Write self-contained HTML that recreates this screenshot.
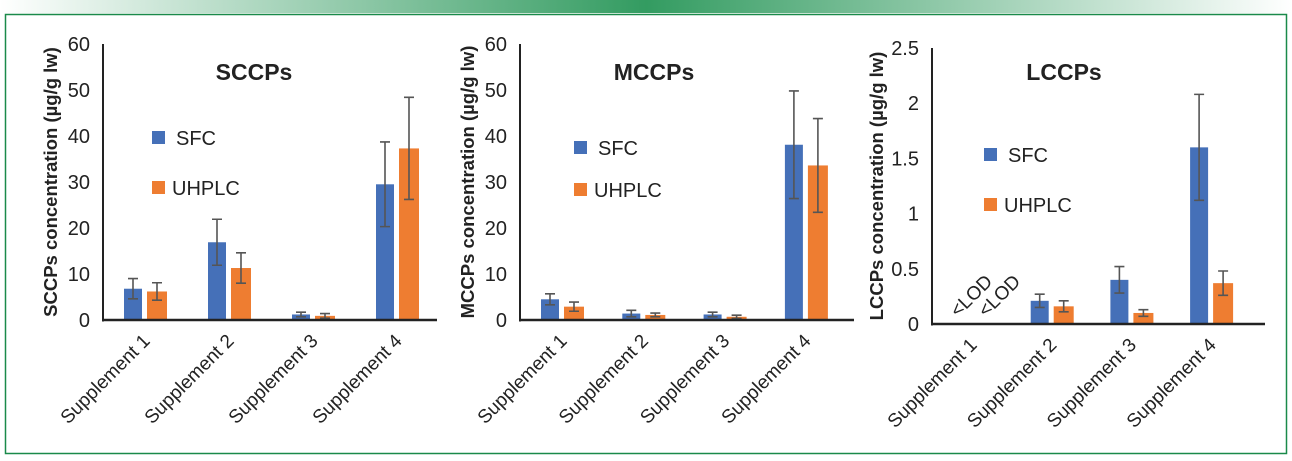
<!DOCTYPE html>
<html><head><meta charset="utf-8"><style>
body{margin:0;width:1292px;height:456px;overflow:hidden;background:#fff;font-family:"Liberation Sans",Arial,sans-serif}
</style></head><body>
<svg id="chart" width="1292" height="456" xmlns="http://www.w3.org/2000/svg" font-family="Liberation Sans, Arial, sans-serif">
<defs><linearGradient id="topg" x1="0" x2="1" y1="0" y2="0">
<stop offset="0" stop-color="#fff"/><stop offset="0.5" stop-color="#0f8a45"/><stop offset="1" stop-color="#fff"/></linearGradient></defs>
<rect x="0" y="0" width="1292" height="13" fill="url(#topg)" opacity="0.85"/>
<rect x="5.5" y="14.5" width="1281" height="439" fill="none" stroke="#1a8a4a" stroke-width="1.5"/>
<g id="plots"></g>
</svg>
<script>
const categories = ["Supplement 1","Supplement 2","Supplement 3","Supplement 4"];
const sccpSFC = [6.8,16.9,1.2,29.5];
const sccpSFCErr = [2.2,5.0,0.5,9.2];
const sccpUHPLC = [6.2,11.3,0.9,37.3];
const sccpUHPLCErr = [1.9,3.3,0.5,11.1];
const mccpSFC = [4.5,1.4,1.2,38.1];
const mccpSFCErr = [1.2,0.7,0.5,11.7];
const mccpUHPLC = [2.9,1.1,0.7,33.6];
const mccpUHPLCErr = [1.0,0.4,0.35,10.2];
const lccpSFC = [null,0.21,0.40,1.60];
const lccpSFCErr = [0,0.06,0.12,0.48];
const lccpUHPLC = [null,0.16,0.10,0.37];
const lccpUHPLCErr = [0,0.05,0.03,0.11];
const sccpTicks = [0,10,20,30,40,50,60];
const mccpTicks = [0,10,20,30,40,50,60];
const lccpTicks = [0,0.5,1,1.5,2,2.5];

const NS="http://www.w3.org/2000/svg";
const root=document.getElementById('plots');
function mk(tag,attrs,parent){const e=document.createElementNS(NS,tag);for(const k in attrs)e.setAttribute(k,attrs[k]);(parent||root).appendChild(e);return e;}

const panels=[
 {key:'sccp',title:'SCCPs',ytitle:'SCCPs concentration (µg/g lw)',sfc:sccpSFC,sfcE:sccpSFCErr,uh:sccpUHPLC,uhE:sccpUHPLCErr,ticks:sccpTicks,
  ax:103,x0:124,pitch:84,y0:320,yTop:44,xEnd:437,titleX:254,legX:152,legY1:131,legY2:181,ytX:57},
 {key:'mccp',title:'MCCPs',ytitle:'MCCPs concentration (µg/g lw)',sfc:mccpSFC,sfcE:mccpSFCErr,uh:mccpUHPLC,uhE:mccpUHPLCErr,ticks:mccpTicks,
  ax:520,x0:541,pitch:81.3,y0:320,yTop:44,xEnd:854,titleX:654,legX:574,legY1:141,legY2:183,ytX:474},
 {key:'lccp',title:'LCCPs',ytitle:'LCCPs concentration (µg/g lw)',sfc:lccpSFC,sfcE:lccpSFCErr,uh:lccpUHPLC,uhE:lccpUHPLCErr,ticks:lccpTicks,
  ax:932,x0:951,pitch:79.7,y0:324,yTop:48,xEnd:1265,titleX:1064,legX:984,legY1:148,legY2:198,ytX:883,lod:true}
];

panels.forEach(p=>{
  const g=mk('g',{});
  
  
  const maxT=p.ticks[p.ticks.length-1];
  const y=v=>p.y0-(v/maxT)*(p.y0-p.yTop);
  const xc=i=>p.x0+i*p.pitch;
  p.ticks.forEach(t=>{
    const tx=mk('text',{x:p.ax-13,y:y(t)+7,'text-anchor':'end','font-size':20,fill:'#222'},g);
    tx.textContent=String(t);
    
    
  });
  const ya=mk('line',{x1:p.ax,y1:p.yTop,x2:p.ax,y2:p.y0+1.5,stroke:'#222','stroke-width':2},g);
  
  
  const ytl=mk('text',{x:0,y:0,transform:`translate(${p.ytX},${(p.y0+p.yTop)/2}) rotate(-90)`,'text-anchor':'middle','font-size':18.5,'font-weight':'bold',fill:'#222'},g);
  ytl.textContent=p.ytitle;
  
  
  const tt=mk('text',{x:p.titleX,y:80,'text-anchor':'middle','font-size':23,'font-weight':'bold',fill:'#222'},g);
  tt.textContent=p.title;
  
  
  categories.forEach((c,i)=>{
    const series=[[p.sfc,p.sfcE,'#4570b8',0,18,'sfc'],[p.uh,p.uhE,'#ee7d31',23,20,'uhplc']];
    series.forEach(([vals,errs,col,off,w,nm])=>{
      const v=vals[i];
      if(v===null)return;
      const bx=xc(i)+off;
      const r=mk('rect',{x:bx,y:y(v),width:w,height:p.y0-y(v),fill:col},g);
      
      
      const cx=bx+w/2, hi=y(v+errs[i]), lo=y(Math.max(0,v-errs[i]));
      const eb=mk('path',{d:`M${cx},${hi}V${lo}M${cx-5},${hi}H${cx+5}M${cx-5},${lo}H${cx+5}`,stroke:'#555','stroke-width':1.6,fill:'none'},g);
      
      
    });
    const lx=xc(i)+27, ly=p.y0+22;
    const lb=mk('text',{x:0,y:0,transform:`translate(${lx},${ly}) rotate(-45)`,'text-anchor':'end','font-size':19,fill:'#222'},g);
    lb.textContent=c;
    
    
  });
  const xa=mk('line',{x1:p.ax-1,y1:p.y0,x2:p.xEnd,y2:p.y0,stroke:'#222','stroke-width':2.5},g);
  
  
  if(p.lod){
    [[p.x0+7,p.y0-6],[p.x0+35,p.y0-6]].forEach(([lx,ly])=>{
      const t=mk('text',{x:0,y:0,transform:`translate(${lx},${ly}) rotate(-45)`,'font-size':19,fill:'#222'},g);
      t.textContent='<LOD';
      
      
    });
  }
  [[p.legY1,'#4570b8','SFC',24],[p.legY2,'#ee7d31','UHPLC',20]].forEach(([ly,col,txt,dx])=>{
    const s=mk('rect',{x:p.legX,y:ly,width:13,height:13,fill:col},g);
    
    
    const t=mk('text',{x:p.legX+dx,y:ly+14,'font-size':20,fill:'#222'},g);
    t.textContent=txt;
    
    
  });
});
</script>
</body></html>
